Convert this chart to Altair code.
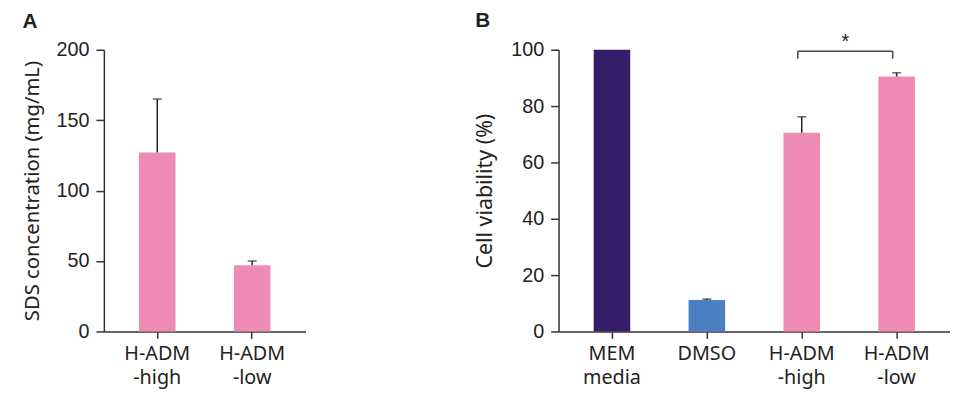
import altair as alt
import pandas as pd

# Panel A data
a_groups = ["H-ADM|-high", "H-ADM|-low"]
a_values = [127, 47]
a_errors = [38, 3]
a_ticks = [0, 50, 100, 150, 200]

# Panel B data
b_groups = ["MEM|media", "DMSO", "H-ADM|-high", "H-ADM|-low"]
b_values = [100, 11.2, 70.5, 90.5]
b_errors = [0, 0.3, 5.7, 1.3]
b_colors = ["#361D69", "#4A80C2", "#EE8BB5", "#EE8BB5"]
b_ticks = [0, 20, 40, 60, 80, 100]

# significance bracket
bracket_pair = ["H-ADM|-high", "H-ADM|-low"]
bracket_top = 99.5
bracket_bottom = 96.8
bracket_label = "*"

PINK = "#EE8BB5"
AXIS = "#333333"
TXT = "#222222"

a_df = pd.DataFrame({"group": a_groups, "value": a_values, "err": a_errors})
a_df["upper"] = a_df["value"] + a_df["err"]
b_df = pd.DataFrame({"group": b_groups, "value": b_values, "err": b_errors, "color": b_colors})
b_df["upper"] = b_df["value"] + b_df["err"]

def xaxis():
    return alt.Axis(title=None, labelAngle=0, labelExpr="split(datum.value, '|')",
                    labelFont="Noto Sans", labelFontSize=20, labelColor=TXT,
                    labelLineHeight=25, labelPadding=5, tickSize=7,
                    domainColor=AXIS, tickColor=AXIS, domainWidth=1.5, tickWidth=1.5,
                    labelBaseline="top")

def yaxis(title, ticks, tsize):
    return alt.Axis(title=title, values=ticks, grid=False,
                    labelFont="Liberation Sans", labelFontSize=20, labelColor=TXT,
                    labelPadding=7, tickSize=8, titleFont="Noto Sans", titleFontSize=tsize,
                    titleFontWeight="normal", titleColor=TXT, titlePadding=14,
                    domainColor=AXIS, tickColor=AXIS, domainWidth=1.5, tickWidth=1.5)

def xscale(domain):
    return alt.Scale(domain=domain, paddingInner=0.615, paddingOuter=0.37)

# ---- Panel A
a_bar = alt.Chart(a_df).mark_bar(color=PINK).encode(
    x=alt.X("group:N", scale=xscale(a_groups), axis=xaxis()),
    y=alt.Y("value:Q", scale=alt.Scale(domain=[0, 200]),
            axis=yaxis("SDS concentration (mg/mL)", a_ticks, 20.5)))
a_err = alt.Chart(a_df).mark_rule(color=TXT, strokeWidth=1.5).encode(
    x="group:N", y="value:Q", y2="upper:Q")
a_cap = alt.Chart(a_df).mark_tick(color=TXT, size=9, thickness=1.5).encode(
    x="group:N", y="upper:Q")
chart_a = alt.layer(a_bar, a_err, a_cap).properties(
    width=204, height=285,
    title=alt.TitleParams("A", anchor="start", fontSize=21, font="Liberation Sans", fontWeight="bold", color=TXT, offset=8))

# ---- Panel B
b_bar = alt.Chart(b_df).mark_bar().encode(
    x=alt.X("group:N", scale=xscale(b_groups), axis=xaxis()),
    y=alt.Y("value:Q", scale=alt.Scale(domain=[0, 100]),
            axis=yaxis("Cell viability (%)", b_ticks, 21.6)),
    color=alt.Color("group:N", scale=alt.Scale(domain=b_groups, range=b_colors), legend=None))
b_err_df = b_df[b_df["err"] > 0]
b_err = alt.Chart(b_err_df).mark_rule(color=TXT, strokeWidth=1.5).encode(
    x="group:N", y="value:Q", y2="upper:Q")
b_cap = alt.Chart(b_err_df).mark_tick(color=TXT, size=9, thickness=1.5).encode(
    x="group:N", y="upper:Q")

br_h_df = pd.DataFrame({"group": [bracket_pair[0]], "right": [bracket_pair[1]], "y": [bracket_top]})
br_v_df = pd.DataFrame({"group": bracket_pair, "y": [bracket_top] * 2, "y2": [bracket_bottom] * 2})
br_h = alt.Chart(br_h_df).mark_rule(color="#444444", strokeWidth=1.5, xOffset=-4, x2Offset=-4).encode(
    x="group:N", x2="right:N", y="y:Q")
br_v = alt.Chart(br_v_df).mark_rule(color="#444444", strokeWidth=1.5, xOffset=-4).encode(
    x="group:N", y="y:Q", y2="y2:Q")
star_df = pd.DataFrame({"group": [bracket_pair[0]], "y": [bracket_top], "t": [bracket_label]})
star = alt.Chart(star_df).mark_text(fontSize=20, font="Liberation Sans", color=TXT, dx=44, dy=1, baseline="bottom").encode(
    x="group:N", y="y:Q", text="t:N")

chart_b = alt.layer(b_bar, b_err, b_cap, br_h, br_v, star).properties(
    width=396, height=285,
    title=alt.TitleParams("B", anchor="start", fontSize=21, font="Liberation Sans", fontWeight="bold", color=TXT, offset=1))

chart = alt.hconcat(chart_a, chart_b, spacing=171).properties(
    padding={"left": 14, "top": 0, "right": 0, "bottom": 0}
).configure_view(stroke=None).resolve_scale(x="independent", y="independent", color="independent")

chart.save("out.html", embed_options={"renderer": "svg", "actions": False})
